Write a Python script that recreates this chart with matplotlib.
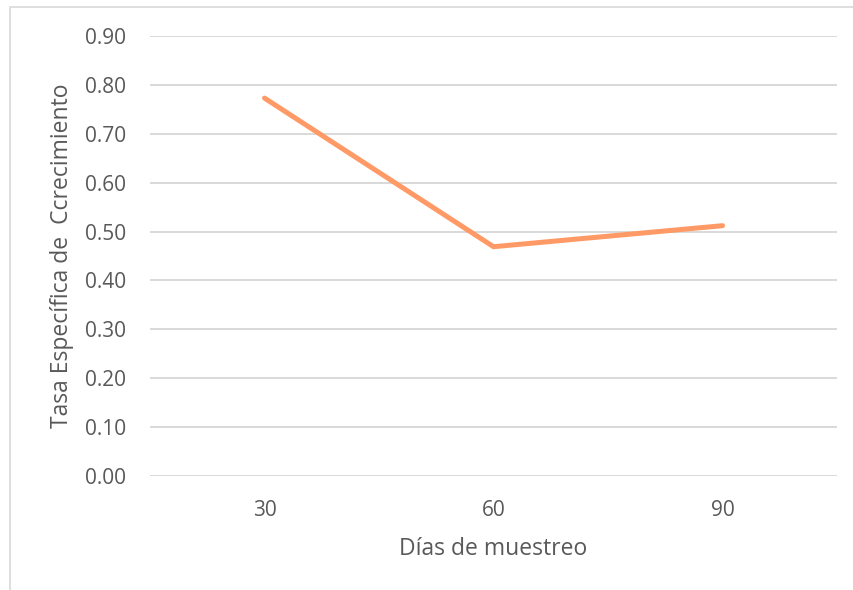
import matplotlib.pyplot as plt
from matplotlib.patches import Rectangle

# Datos
dias = ['30', '60', '90']
tasa = [0.773, 0.469, 0.512]
y_ticks = [0.0, 0.1, 0.2, 0.3, 0.4, 0.5, 0.6, 0.7, 0.8, 0.9]

plt.rcParams['font.family'] = ['Open Sans', 'DejaVu Sans']

fig = plt.figure(figsize=(8.54, 5.90), dpi=100)
ax = fig.add_axes([150 / 854, 1 - 476 / 590, (837 - 150) / 854, (476 - 36) / 590])

# Marco del gráfico
fig.patches.append(Rectangle((10 / 854, -0.05), 1.1, 1 - 7 / 590 + 0.05,
                             transform=fig.transFigure, fill=False,
                             edgecolor='#d9d9d9', linewidth=1.2))

ax.plot(range(len(dias)), tasa, color='#ff9966', linewidth=3.6,
        solid_capstyle='round', solid_joinstyle='round', zorder=3)

ax.set_xlim(-0.5, len(dias) - 0.5)
ax.set_ylim(0, 0.9)
ax.set_yticks(y_ticks)
ax.set_yticklabels([f'{v:.2f}' for v in y_ticks])
ax.set_xticks(range(len(dias)))
ax.set_xticklabels(dias)

ax.grid(axis='y', color='#d9d9d9', linewidth=1.4)
ax.set_axisbelow(True)
for s in ax.spines.values():
    s.set_visible(False)
ax.tick_params(length=0, labelsize=15, colors='#595959')
ax.tick_params(axis='y', pad=17)
ax.tick_params(axis='x', pad=17)

ax.set_xlabel('Días de muestreo', fontsize=16.5, color='#595959', labelpad=12)
ax.set_ylabel('Tasa Específica de  Ccrecimiento', fontsize=16.5, color='#595959', labelpad=8)

fig.savefig('out.png', dpi=100)
